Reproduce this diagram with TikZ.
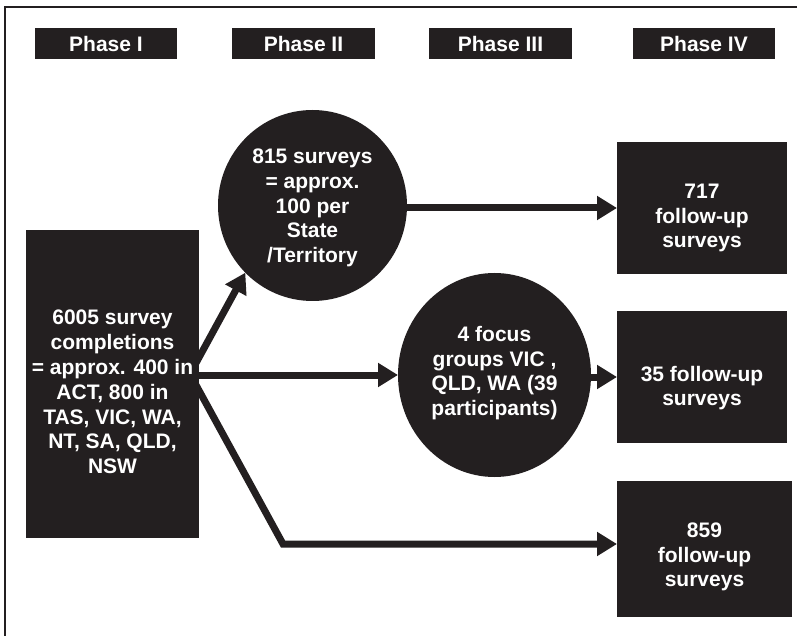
\documentclass[tikz,border=0pt]{standalone}
\usepackage{fontspec}
\setmainfont{Liberation Sans}
\usetikzlibrary{arrows.meta,shapes.geometric,calc,backgrounds}
\definecolor{ink}{HTML}{231F20}
\begin{document}
\begin{tikzpicture}[x=1pt,y=-1pt,
  blk/.style={fill=ink, draw=none, inner sep=0pt, outer sep=0pt},
  rbox/.style={blk, rectangle},
  oval/.style={blk, ellipse},
  lbl/.style={text=white, font=\bfseries\fontsize{21}{24.8}\selectfont, align=center, inner sep=0pt},
  conn/.style={draw=ink, line width=7pt, line join=miter, -{Triangle[length=20pt,width=23pt]}},
  frame/.style={draw=ink, line width=2pt}
  ]
\useasboundingbox (0,0) rectangle (803,636);

% frame (top and left only)
\draw[frame] (797,7) -- (5,7) -- (5,636);

% phase headers
\node[rbox, lbl, minimum width=142pt, minimum height=31pt] (p1) at (106,43.5) {Phase I};
\node[rbox, lbl, minimum width=143pt, minimum height=31pt] (p2) at (303.5,43.5) {Phase II};
\node[rbox, lbl, minimum width=143pt, minimum height=31pt] (p3) at (500.5,43.5) {Phase III};
\node[rbox, lbl, minimum width=142pt, minimum height=31pt] (p4) at (704,43.5) {Phase IV};

% phase I box
\node[rbox, minimum width=173pt, minimum height=308pt] (big) at (112.5,384) {};
\node[lbl] (bigt) at (112.5,392) {6005 survey\\completions\\= approx. 400 in\\ACT, 800 in\\TAS, VIC, WA,\\NT, SA, QLD,\\NSW};

% phase II circle
\node[oval, minimum width=189pt, minimum height=191pt] (c1) at (312.5,205.5) {};
\node[lbl] (c1t) at (312.5,208) {815 surveys\\= approx.\\100 per\\State\\/Territory};

% phase III circle
\node[oval, minimum width=193pt, minimum height=204pt] (c2) at (494.5,375) {};
\node[lbl] (c2t) at (494.5,373) {4 focus\\groups VIC ,\\QLD, WA (39\\participants)};

% phase IV boxes
\node[rbox, minimum width=170pt, minimum height=132pt] (b717) at (702,208) {};
\node[lbl] (b717t) at (702,218) {717\\follow-up\\surveys};
\node[rbox, minimum width=170pt, minimum height=132pt] (b35) at (702,377) {};
\node[lbl] (b35t) at (702,388) {35 follow-up\\surveys};
\node[rbox, minimum width=175pt, minimum height=136pt] (b859) at (704.5,549) {};
\node[lbl] (b859t) at (704.5,557) {859\\follow-up\\surveys};

% connectors
\coordinate (bend) at (283,544);
\begin{scope}[on background layer]
\draw[conn] ($(big.north east)+(-3,133)$) -- (c1.225);
\draw[conn] ($(big.north east)+(-6,145)$) -- (c2.west);
\draw[conn] (c1.east |- b717.west) -- (b717.west);
\draw[conn] (c2.east |- b35.west) -- (b35.west);
\draw[conn] ($(big.north east)+(-3,155)$) -- (bend) -- (b859.west |- bend);
\end{scope}
\end{tikzpicture}
\end{document}
